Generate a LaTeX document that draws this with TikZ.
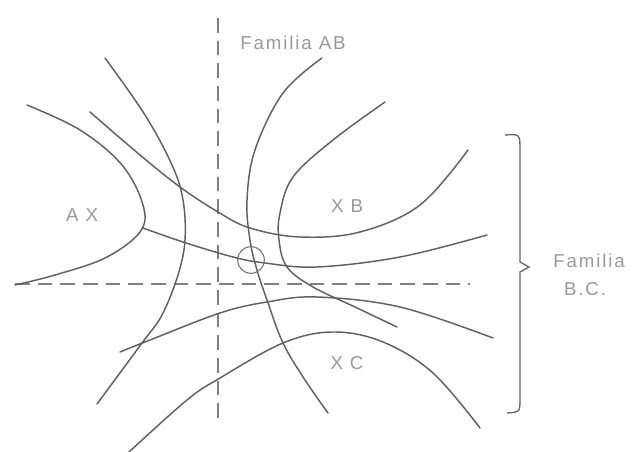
\documentclass[tikz,border=0pt]{standalone}
\usepackage{fontspec}
\setmainfont{Liberation Sans}[LetterSpace=10]
\begin{document}
\begin{tikzpicture}[x=0.75pt,y=-0.75pt,
  curve/.style={draw=black!62,line width=1.1pt,line cap=round},
  guide/.style={draw=black!50,line width=0.9pt,dash pattern=on 11pt off 6pt},
  lbl/.style={text=black!40,font=\fontsize{14}{16}\selectfont,inner sep=0pt}]
\useasboundingbox (0,0) rectangle (632,452);
% dashed axes
\coordinate (vtop) at (218,18);
\coordinate (vbot) at (218,418);
\coordinate (hl) at (15,284);
\coordinate (hr) at (470,284);
\draw[guide] (vtop) -- (vbot);
\draw[guide] (hl) -- (hr);
% left hyperbola branch (A)
\draw[curve] plot[smooth,tension=0.6] coordinates {(27,105) (80,130) (122,165) (143,205) (140,232) (105,258) (55,275) (15,285)};
% line from A through the point to the right
\draw[curve] plot[smooth,tension=0.6] coordinates {(143,228) (183,242) (233,257) (265,263) (317,267) (400,257) (487,235)};
% curve from upper left to upper right (B branch lower)
\draw[curve] plot[smooth,tension=0.6] coordinates {(90,112) (140,155) (180,187) (218,212) (250,228) (300,237) (360,232) (420,205) (468,150)};
% steep curve on the left
\draw[curve] plot[smooth,tension=0.6] coordinates {(105,58) (145,115) (172,165) (183,200) (185,240) (178,275) (162,315) (142,343) (97,404)};
% curve through the point (top to bottom)
\draw[curve] plot[smooth,tension=0.6] coordinates {(322,58) (283,93) (255,150) (247,200) (250,240) (257,270) (267,300) (283,343) (305,380) (328,413)};
% right curve (B)
\draw[curve] plot[smooth,tension=0.6] coordinates {(385,102) (333,140) (293,177) (280,213) (279,240) (287,267) (313,287) (355,307) (397,327)};
% upper C curve
\draw[curve] plot[smooth,tension=0.6] coordinates {(120,352) (150,340) (220,313) (267,302) (317,297) (400,307) (493,338)};
% lower C curve
\draw[curve] plot[smooth,tension=0.6] coordinates {(129,452) (187,400) (220,378) (283,343) (333,332) (383,342) (433,373) (480,428)};
% the marked point
\coordinate (P) at (251,260);
\node[draw=black!55,line width=0.8pt,circle,minimum size=20pt,inner sep=0pt] (pc) at (P) {};
% brace
\coordinate (btop) at (505,135);
\coordinate (bbot) at (507,413);
\coordinate (btip) at (529,267);
\draw[draw=black!60,line width=1pt] (btop) .. controls (520,134) .. (520,150) -- (520,262) -- (btip) -- (520,272) -- (520,398) .. controls (520,412) .. (bbot);
% labels
\node[lbl] (fab) at (293,43) {Familia AB};
\node[lbl] (ax) at (82,215) {A X};
\node[lbl] (xb) at (347,206) {X B};
\node[lbl] (xc) at (347,363) {X C};
\node[lbl] (fbc1) at (589,261) {Familia};
\node[lbl] (fbc2) at (585,289) {B.C.};
\end{tikzpicture}
\end{document}
